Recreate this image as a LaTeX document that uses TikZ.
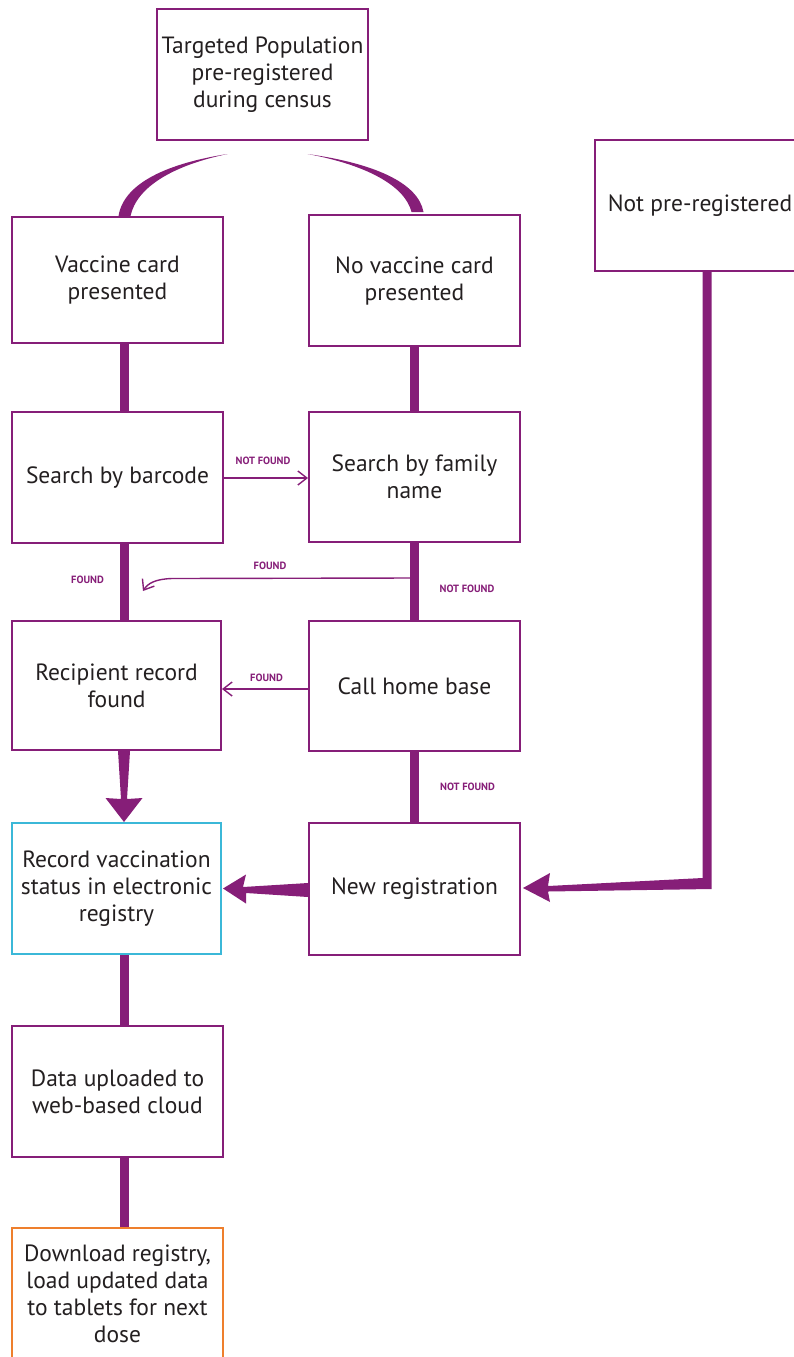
\documentclass[tikz,border=0pt]{standalone}
\usepackage{fontspec}
\setmainfont{PT Sans}
\usetikzlibrary{arrows.meta,calc}
\definecolor{pur}{HTML}{861E78}
\definecolor{txt}{HTML}{231F20}
\definecolor{cyanb}{HTML}{3BB8D8}
\definecolor{orng}{HTML}{EE7F2D}
\tikzset{
  box/.style={draw=pur, line width=2pt, minimum width=211pt, minimum height=131pt, align=center, text=txt, font=\fontsize{23.5}{27}\selectfont, inner sep=0pt},
  thick conn/.style={draw=pur, line width=9pt},
  thin conn/.style={draw=pur, line width=1.4pt, -{Straight Barb[length=9pt,width=14pt,line width=1.4pt]}},
  lbl/.style={text=pur, font=\bfseries\fontsize{10.5}{12}\selectfont, inner sep=0pt},
  taper/.style={fill=pur, draw=none}
}
\begin{document}
\begin{tikzpicture}[x=1pt,y=-1pt]
\useasboundingbox (0,0) rectangle (794,1357);
\begin{scope}
\clip (0,0) rectangle (794,1357);
% nodes
\node[box] (top) at (262.5,74.5) {Targeted Population\\pre-registered\\during census};
\node[box, minimum height=126pt] (vc) at (117.5,280) {Vaccine card\\presented};
\node[box] (nvc) at (414.5,280.5) {No vaccine card\\presented};
\node[box] (npr) at (700,205.5) {Not pre-registered};
\node[box] (sb) at (117.5,477.5) {Search by barcode};
\node[box, minimum height=130pt] (sf) at (414.5,477) {Search by family\\name};
\node[box, minimum width=209pt, minimum height=129pt] (rr) at (116.5,685.5) {Recipient record\\found};
\node[box, minimum height=130pt] (ch) at (414.5,686) {Call home base};
\node[box, draw=cyanb, minimum width=209pt] (rv) at (116.5,888.5) {Record vaccination\\status in electronic\\registry};
\node[box, minimum height=132pt] (nr) at (414.5,889) {New registration};
\node[box] (du) at (117.5,1091.5) {Data uploaded to\\web-based cloud};
\node[box, draw=orng] (dl) at (117.5,1293.5) {Download registry,\\load updated data\\to tablets for next\\dose};

% top curved tapered connectors
\fill[pur] ($(top.south)+(-35,13)$) .. controls (170,163) and (124,182) .. ($(vc.north)+(1,0)$)
  -- ($(vc.north)+(13,0)$) .. controls (137,186) and (175,165) .. ($(top.south)+(-35,13)$) -- cycle;
\fill[pur] ($(top.south)+(45,13)$) .. controls (372,163) and (418,182) .. ($(nvc.north)+(9,-2)$)
  -- ($(nvc.north)+(-3,-2)$) .. controls (405,186) and (367,165) .. ($(top.south)+(45,13)$) -- cycle;

% straight thick connectors
\draw[thick conn] ([xshift=6.5pt]vc.south) -- ([xshift=6.5pt]sb.north);
\draw[thick conn] (nvc.south) -- (sf.north);
\draw[thick conn] ([xshift=6.5pt]sb.south) -- ([xshift=7.5pt]rr.north);
\draw[thick conn] (sf.south) -- (ch.north);
\draw[thick conn] (ch.south) -- (nr.north);
\draw[thick conn] ([xshift=7.5pt]rv.south) -- ([xshift=6.5pt]du.north);
\draw[thick conn] ([xshift=6.5pt]du.south) -- ([xshift=6.5pt]dl.north);

% tapered arrow rr -> rv
\fill[pur] ($(rr.south)+(1.5,0)$) -- ($(rr.south)+(13.5,0)$) -- ($(rr.south)+(10.5,48)$)
  -- ($(rr.south)+(26,47)$) -- ($(rv.north)+(7.5,0)$) -- ($(rr.south)+(-11,47)$)
  -- ($(rr.south)+(4.5,48)$) -- cycle;

% tapered arrow nr -> rv
\fill[pur] ($(nr.west)+(0,-6)$) -- ($(nr.west)+(0,8)$) -- ($(rv.east)+(24,4.5)$)
  -- ($(rv.east)+(24,15)$) -- ($(rv.east)+(1,0)$) -- ($(rv.east)+(24,-14)$)
  -- ($(rv.east)+(21,-1.5)$) -- cycle;

% npr -> nr
\fill[pur] ($(npr.south)+(2.5,0)$) -- ($(npr.south)+(11.5,0)$) -- ($(npr.south)+(11.5,617)$)
  -- ($(nr.east)+(27,2.5)$) -- ($(nr.east)+(29,13)$) -- ($(nr.east)+(2,-1)$)
  -- ($(nr.east)+(29,-16)$) -- ($(nr.east)+(27,-3)$) -- ($(npr.south)+(2.5,606)$) -- cycle;

% thin arrows
\draw[thin conn] (sb.east |- 0,478) -- (sf.west |- 0,478);
\coordinate (fs) at (414.5,578);
\coordinate (fe) at (143,591);
\draw[thin conn] (fs) -- (172,578.5) .. controls (156,579) and (148,583) .. (fe);
\draw[thin conn] (ch.west |- 0,689) -- (rr.east |- 0,689);
\end{scope}

% labels
\node[lbl] at (263,461) {NOT FOUND};
\node[lbl] at (87.5,579.5) {FOUND};
\node[lbl] at (270,566) {FOUND};
\node[lbl] at (467,588.5) {NOT FOUND};
\node[lbl] at (266.5,678) {FOUND};
\node[lbl] at (467.5,787) {NOT FOUND};
\end{tikzpicture}
\end{document}
